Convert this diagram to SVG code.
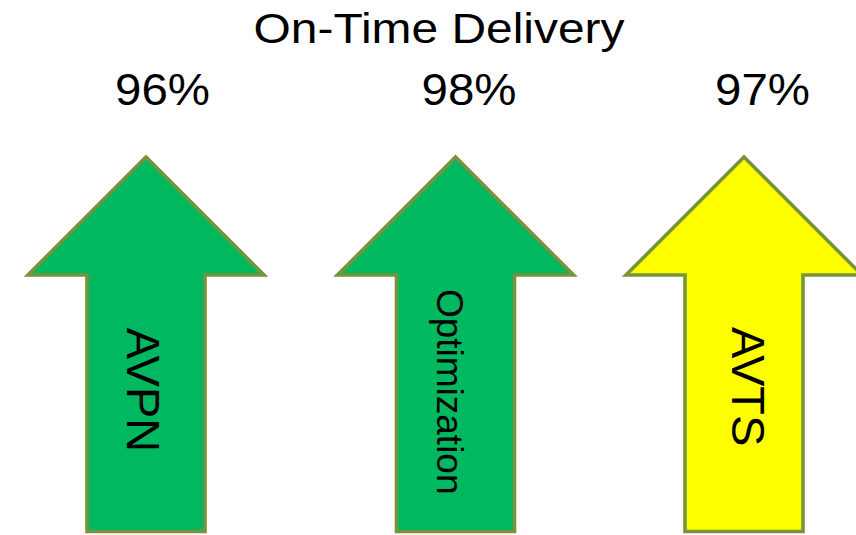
<svg xmlns="http://www.w3.org/2000/svg" width="856" height="535" viewBox="0 0 856 535">
  <style>
    .arrow { stroke: #77933C; stroke-width: 3.6; stroke-linejoin: miter; }
    .green { fill: #00B860; }
    .yellow { fill: #FFFF00; }
    .t { font-family: "Liberation Sans", Arial, sans-serif; fill: #000000; }
    .title { font-size: 43px; }
    .pct { font-size: 45px; }
    .lbl { font-size: 47px; }
    .lbl2 { font-size: 37px; }
  </style>
  <rect width="856" height="535" fill="#FFFFFF"/>
  <text class="t title" x="439" y="43" text-anchor="middle" textLength="371" lengthAdjust="spacingAndGlyphs">On-Time Delivery</text>
  <g id="avpn">
    <text class="t pct" x="162.5" y="105" text-anchor="middle" textLength="95" lengthAdjust="spacingAndGlyphs">96%</text>
    <polygon class="arrow green" points="146,157 264,275 205,275 205,531.5 87,531.5 87,275 28,275"/>
    <text class="t lbl" transform="translate(127,390) rotate(90)" text-anchor="middle">AVPN</text>
  </g>
  <g id="optimization">
    <text class="t pct" x="469" y="105" text-anchor="middle" textLength="95" lengthAdjust="spacingAndGlyphs">98%</text>
    <polygon class="arrow green" points="455.5,157 573.5,275 514.5,275 514.5,531.5 396.5,531.5 396.5,275 337.5,275"/>
    <text class="t lbl2" transform="translate(437,391.7) rotate(90)" text-anchor="middle">Optimization</text>
  </g>
  <g id="avts">
    <text class="t pct" x="762.5" y="105" text-anchor="middle" textLength="95" lengthAdjust="spacingAndGlyphs">97%</text>
    <polygon class="arrow yellow" points="744,157 862,275 803,275 803,531.5 685,531.5 685,275 626,275"/>
    <text class="t lbl" transform="translate(731.5,386.7) rotate(90)" text-anchor="middle">AVTS</text>
  </g>
  <g id="connectors"/>
</svg>
